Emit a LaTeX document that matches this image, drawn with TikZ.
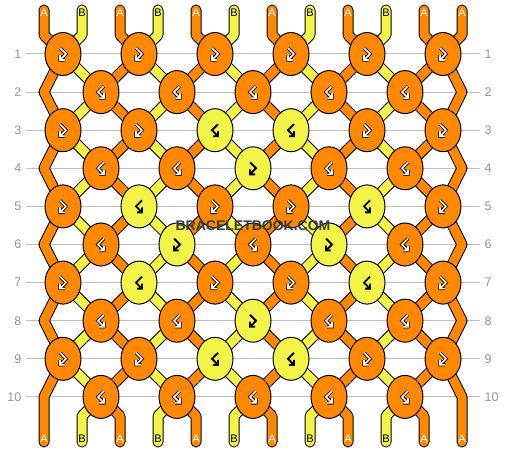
\documentclass[tikz,border=0pt]{standalone}
\usepackage{fontspec}
\setmainfont{Liberation Sans}
\usetikzlibrary{shapes.geometric, backgrounds}
\definecolor{korange}{RGB}{255,136,0}
\definecolor{kyellow}{RGB}{242,245,72}
\definecolor{rulegray}{RGB}{192,192,192}
\definecolor{numgray}{RGB}{150,150,150}
\definecolor{markgray}{RGB}{60,60,60}
\tikzstyle{knot} = [ellipse, minimum width=36pt, minimum height=43pt, inner sep=0pt, draw=black, line width=1pt]
\tikzstyle{knotO} = [fill=korange]
\tikzstyle{knotY} = [fill=kyellow]
\tikzstyle{strand} = [draw=black, line width=1pt, double distance=9pt, line cap=round, line join=round]
\tikzstyle{strandO} = [double=korange]
\tikzstyle{strandY} = [double=kyellow]
\tikzstyle{iconO} = [draw=black, double=white, line width=0.8pt, double distance=1.6pt]
\tikzstyle{iconY} = [draw=black, line width=1.9pt]
\tikzstyle{arrowfb} = []
\tikzstyle{arrowbf} = [xscale=-1]
\tikzstyle{tag} = [inner sep=0pt, font=\fontsize{11}{11}\selectfont]
\tikzstyle{tagO} = [text=white]
\tikzstyle{tagY} = [text=black]
\tikzstyle{rowno} = [inner sep=0pt, text=numgray, font=\fontsize{12.5}{12.5}\selectfont]
\tikzstyle{gridline} = [draw=rulegray, line width=1pt, shorten <=4.5pt, shorten >=4.5pt]
\tikzstyle{watermark} = [inner sep=0pt, text=markgray, font=\bfseries\fontsize{14}{14}\selectfont]

\begin{document}
\begin{tikzpicture}[x=1pt, y=-1pt]
    \useasboundingbox (0,0) rectangle (506,452);

    % Knots
    \foreach \r/\knots in {
        1/{fb/O,fb/O,fb/O,fb/O,fb/O,fb/O},
        2/{bf/O,bf/O,bf/O,bf/O,bf/O},
        3/{fb/O,fb/O,bf/Y,bf/Y,fb/O,fb/O},
        4/{bf/O,bf/O,fb/Y,bf/O,bf/O},
        5/{fb/O,bf/Y,fb/O,fb/O,bf/Y,fb/O},
        6/{bf/O,fb/Y,bf/O,fb/Y,bf/O},
        7/{fb/O,bf/Y,fb/O,fb/O,bf/Y,fb/O},
        8/{bf/O,bf/O,fb/Y,bf/O,bf/O},
        9/{fb/O,fb/O,bf/Y,bf/Y,fb/O,fb/O},
        10/{bf/O,bf/O,bf/O,bf/O,bf/O}} {
        \pgfmathsetmacro\xo{isodd(\r) ? 63 : 101}
        \foreach \t/\c [count=\i] in \knots {
            \node[knot, knot\c] (k-\r-\i) at ({\xo+76*(\i-1)}, {54+38.1*(\r-1)}) {};
            \draw[icon\c, arrow\t, shift={(k-\r-\i.center)}] (-3,-6) -- (3,0) -- (-3,6) (-3,1) -- (-3,6) -- (2,6);
        }
    }
    % edge points of the even rows
    \foreach \r in {2,4,...,10} {
        \coordinate (k-\r-0) at (44, {54+38.1*(\r-1)});
        \coordinate (k-\r-6) at (462, {54+38.1*(\r-1)});
    }

    % Row numbers
    \foreach \r in {1,...,10} {
        \node[rowno, anchor=east] (nl-\r) at (21.5, {54+38.1*(\r-1)}) {\r};
        \node[rowno, anchor=west] (nr-\r) at (484.5, {54+38.1*(\r-1)}) {\r};
    }

    \begin{scope}[on background layer]
        \fill[white] (0,0) rectangle (506,452);
        \foreach \r in {1,...,10}
            \draw[gridline] (nl-\r.east) -- (nr-\r.west);
        % Strands
        \foreach \p/\c in {1/O,2/Y,3/O,4/Y,5/O,6/Y,7/O,8/Y,9/O,10/Y,11/O,12/O} {
            \coordinate (t-\p) at ({44+38*(\p-1)}, 10);
            \coordinate (tb-\p) at ({44+38*(\p-1)}, 35);
            \coordinate (bb-\p) at ({44+38*(\p-1)}, 416);
            \coordinate (b-\p) at ({44+38*(\p-1)}, 442);
            \draw[strand, strand\c] (t-\p) -- (tb-\p)
                \foreach \r [evaluate=\r as \i using {int(floor((\p+mod(\r,2))/2))}] in {1,...,10} { -- (k-\r-\i.center) }
                -- (bb-\p) -- (b-\p);
        }
    \end{scope}

    % Strand letters
    \foreach \p/\c/\l in {1/O/A,2/Y/B,3/O/A,4/Y/B,5/O/A,6/Y/B,7/O/A,8/Y/B,9/O/A,10/Y/B,11/O/A,12/O/A} {
        \node[tag, tag\c] (lt-\p) at ({44+38*(\p-1)}, 12.5) {\l};
        \node[tag, tag\c] (lb-\p) at ({44+38*(\p-1)}, 439) {\l};
    }

    % Watermark
    \node[watermark] (wm) at (253,226) {BRACELETBOOK.COM};
\end{tikzpicture}
\end{document}
